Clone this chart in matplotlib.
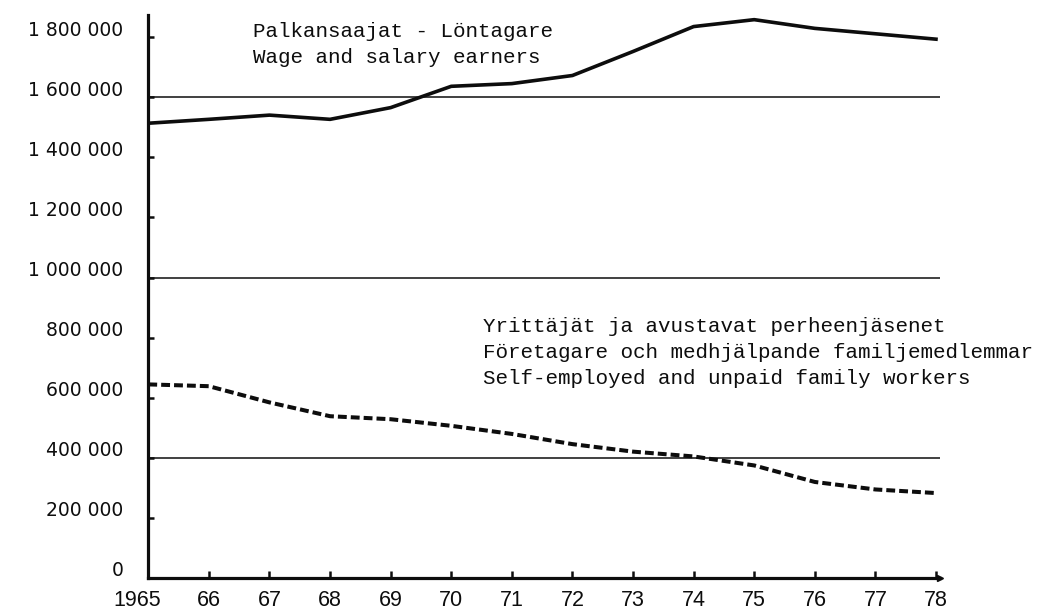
import matplotlib
matplotlib.use("Agg")
import matplotlib.pyplot as plt
import matplotlib.transforms as mtransforms

# employed persons by status, 1965-1978
years = list(range(1965, 1979))
year_labels = ['1965', '66', '67', '68', '69', '70', '71',
               '72', '73', '74', '75', '76', '77', '78']
wage_earners = [1514000, 1527000, 1541000, 1527000, 1566000, 1637000, 1646000,
                1673000, 1753000, 1836000, 1859000, 1830000, 1812000, 1794000]
self_employed = [644000, 638000, 584000, 538000, 528000, 506000, 479000,
                 445000, 420000, 404000, 374000, 319000, 294000, 282000]
y_ticks = [0, 200000, 400000, 600000, 800000, 1000000,
           1200000, 1400000, 1600000, 1800000]
y_labels = ['0', '200 000', '400 000', '600 000', '800 000', '1 000 000',
            '1 200 000', '1 400 000', '1 600 000', '1 800 000']
ref_lines = [400000, 1000000, 1600000]
text_wage = ['Palkansaajat - Löntagare',
             'Wage and salary earners']
text_self = ['Yrittäjät ja avustavat perheenjäsenet',
             'Företagare och medhjälpande familjemedlemmar',
             'Self-employed and unpaid family workers']

ink = '#0d0d0d'
fig = plt.figure(figsize=(10.45, 6.14), dpi=100)
ax = fig.add_axes([0.1419, 0.0591, 0.7576, 0.9164])
ax.set_xlim(1965, 1978.066)
ax.set_ylim(0, 1874400)

for y in ref_lines:
    ax.axhline(y, color=ink, lw=1.1, zorder=1)

ax.plot(years, wage_earners, color=ink, lw=2.6, solid_joinstyle='round', zorder=3)
ax.plot(years, self_employed, color=ink, lw=2.9, dashes=(2.2, 1.0), zorder=3)

for side in ['top', 'right']:
    ax.spines[side].set_visible(False)
for side in ['left', 'bottom']:
    ax.spines[side].set_linewidth(2.3)
    ax.spines[side].set_color(ink)

# small arrow head at the end of the time axis
ax.plot([1], [0], marker='>', ms=5, color=ink, transform=ax.transAxes, clip_on=False)

ax.set_xticks(years, year_labels)
ax.set_yticks(y_ticks, y_labels)
ax.tick_params(axis='x', direction='in', length=5, width=1.8, pad=8.5,
               labelsize=15.5, colors=ink)
ax.tick_params(axis='y', direction='in', length=4, width=1.8, pad=18,
               labelsize=13.5, colors=ink)
for lbl in ax.get_xticklabels():
    lbl.set_fontfamily('Liberation Sans')
for lbl in ax.get_yticklabels():
    lbl.set_fontfamily('DejaVu Sans')

# labels in the scan sit a bit above their ticks
up = mtransforms.ScaledTranslation(0, 9 / 100, fig.dpi_scale_trans)
for lbl in ax.get_yticklabels():
    lbl.set_transform(lbl.get_transform() + up)
first = ax.get_xticklabels()[0]
first.set_transform(first.get_transform() +
                    mtransforms.ScaledTranslation(-11 / 100, 0, fig.dpi_scale_trans))

step = 86600
for i, line in enumerate(text_wage):
    ax.text(1966.73, 1801000 - i * step, line, family='Liberation Mono',
            fontsize=15, color=ink, va='baseline', ha='left')
for i, line in enumerate(text_self):
    ax.text(1970.52, 818600 - i * step, line, family='Liberation Mono',
            fontsize=15, color=ink, va='baseline', ha='left')

fig.savefig('out.png', dpi=100)
